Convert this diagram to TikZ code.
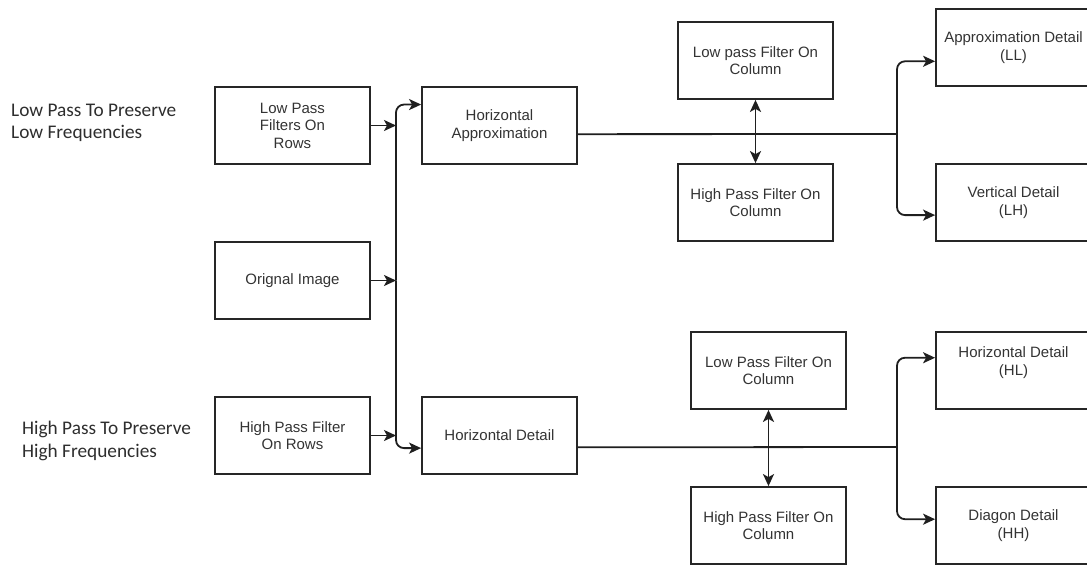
\documentclass[tikz,border=0pt]{standalone}
\usepackage{fontspec}
\setmainfont{Liberation Sans}
\newfontfamily\labelfont{Carlito}
\usetikzlibrary{arrows.meta,calc}

\begin{document}
\begin{tikzpicture}[x=1pt,y=-1pt,
  box/.style={draw=black!85, line width=1.8pt, minimum width=155pt, minimum height=77pt,
    inner sep=0pt, align=center, font=\fontsize{15}{17.5}\selectfont, text=black!80},
  boxtext/.style={inner sep=0pt, align=center, font=\fontsize{15}{17.5}\selectfont, text=black!80},
  link/.style={line width=1.8pt, draw=black!88},
  arr/.style={link, -{Stealth[length=12pt,width=11pt,inset=3pt]}},
  both/.style={link, {Stealth[length=12pt,width=11pt,inset=3pt]}-{Stealth[length=12pt,width=11pt,inset=3pt]}},
  side/.style={inner sep=0pt, anchor=west, align=left, text=black!82,
    font=\labelfont\fontsize{19.3}{22.5}\selectfont}
]
\useasboundingbox (0,0) rectangle (1087,565);

% side captions
\node[side] (lowlbl) at (11,123) {Low Pass To Preserve\\Low Frequencies};
\node[side] (highlbl) at (22,441) {High Pass To Preserve\\High Frequencies};

% row filters and source image
\node[box] (lpr)  at (292.5,125.5) {Low Pass\\Filters On\\Rows};
\node[box] (orig) at (292.5,280.5) {Orignal Image};
\node[box] (hpr)  at (292.5,435.5) {High Pass Filter\\On Rows};

% first-stage results
\node[box] (happ) at (499.5,125.5) {Horizontal\\Approximation};
\node[box] (hdet) at (499.5,435.5) {Horizontal Detail};

% column filters
\node[box] (lpc1) at (755.5,60.5)  {Low pass Filter On\\Column};
\node[box] (hpc1) at (755.5,202.5) {High Pass Filter On\\Column};
\node[box] (lpc2) at (768.5,370.5) {Low Pass Filter On\\Column};
\node[box] (hpc2) at (768.5,525.5) {High Pass Filter On\\Column};

% sub-bands
\node[box] (ll) at (1013.5,47.5)  {Approximation Detail\\(LL)};
\node[box] (lh) at (1013.5,202.5) {Vertical Detail\\(LH)};
\node[box] (hl) at (1013.5,370.5) {};
\node[boxtext] (hltext) at ($(hl)+(0,-8)$) {Horizontal Detail\\(HL)};
\node[box] (hh) at (1013.5,525.5) {Diagon Detail\\(HH)};

% trunk that gathers the row outputs
\coordinate (t1) at (396,125.5);
\coordinate (t2) at (396,280.5);
\coordinate (t3) at (396,435.5);
\draw[arr] (lpr.east) -- (t1);
\draw[arr] (orig.east) -- (t2);
\draw[arr] (hpr.east) -- (t3);
\draw[arr, rounded corners=8pt] (t2) |- ($(happ.north west)!0.234!(happ.south west)$);
\draw[arr, rounded corners=8pt] (t2) |- ($(hdet.north west)!0.66!(hdet.south west)$);

% approximation branch
\coordinate (sA) at (897,134);
\draw[link] ($(happ.north east)!0.61!(happ.south east)$) -- (sA);
\draw[arr, rounded corners=8pt] (sA) |- ($(ll.north west)!0.675!(ll.south west)$);
\draw[arr, rounded corners=8pt] (sA) |- ($(lh.north west)!0.66!(lh.south west)$);
\draw[both] (lpc1.south) -- (hpc1.north);

% detail branch
\coordinate (sB) at (897,447);
\draw[link] ($(hdet.north east)!0.65!(hdet.south east)$) -- (sB);
\draw[arr, rounded corners=8pt] (sB) |- ($(hl.north west)!0.338!(hl.south west)$);
\draw[arr, rounded corners=8pt] (sB) |- ($(hh.north west)!0.42!(hh.south west)$);
\draw[both] (lpc2.south) -- (hpc2.north);
\end{tikzpicture}
\end{document}
